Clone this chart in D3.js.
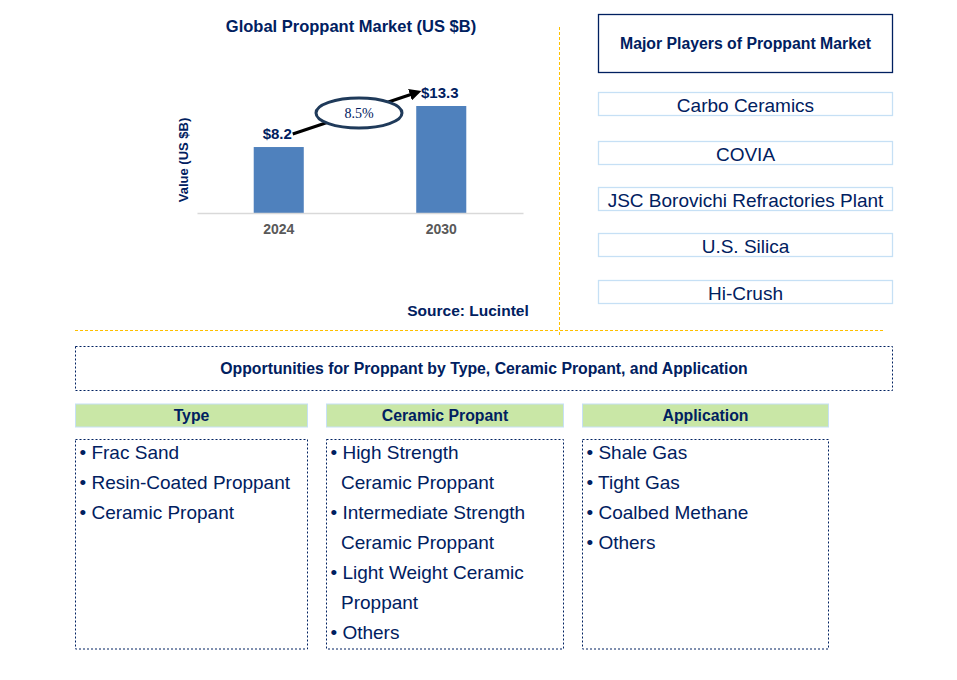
<!DOCTYPE html>
<html><head><meta charset="utf-8">
<script src="https://cdn.jsdelivr.net/npm/d3@7"></script>
<style>html,body{margin:0;padding:0;background:#fff;}svg{display:block;font-family:Arial,"Liberation Sans",sans-serif;}</style>
</head><body>
<svg id="c" width="957" height="680"></svg>
<script>
const years = ["2024", "2030"];
const values = [8.2, 13.3];
const valueLabels = ["$8.2", "$13.3"];
const cagrLabel = "8.5%";
const chartTitle = "Global Proppant Market (US $B)";
const yAxisTitle = "Value (US $B)";
const playersTitle = "Major Players of Proppant Market";
const players = ["Carbo Ceramics", "COVIA", "JSC Borovichi Refractories Plant", "U.S. Silica", "Hi-Crush"];
const sourceText = "Source: Lucintel";
const oppTitle = "Opportunities for Proppant by Type, Ceramic Propant, and Application";
const segHeaders = ["Type", "Ceramic Propant", "Application"];
const typeItems = [["Frac Sand"], ["Resin-Coated Proppant"], ["Ceramic Propant"]];
const ceramicItems = [["High Strength", "Ceramic Proppant"], ["Intermediate Strength", "Ceramic Proppant"], ["Light Weight Ceramic", "Proppant"], ["Others"]];
const appItems = [["Shale Gas"], ["Tight Gas"], ["Coalbed Methane"], ["Others"]];

const NAVY = "#002060";
const svg = d3.select("#c");

// dividers
svg.append("line").attr("x1", 559.5).attr("x2", 559.5).attr("y1", 27).attr("y2", 337)
  .attr("stroke", "#ffc000").attr("stroke-width", 1).attr("stroke-dasharray", "3,2");
svg.append("line").attr("x1", 75).attr("x2", 883).attr("y1", 330.5).attr("y2", 330.5)
  .attr("stroke", "#ffc000").attr("stroke-width", 1).attr("stroke-dasharray", "3,2");

// chart
svg.append("text").attr("x", 351).attr("y", 31.5).attr("text-anchor", "middle")
  .attr("font-weight", "bold").attr("font-size", 16.5).attr("fill", NAVY).text(chartTitle);

const x = d3.scaleBand().domain(years).range([197, 523]).paddingInner(0.692).paddingOuter(0.349);
const y = d3.scaleLinear().domain([0, 13.3]).range([213, 106]);

svg.append("g").selectAll("rect").data(values).join("rect")
  .attr("x", (d, i) => x(years[i])).attr("width", x.bandwidth())
  .attr("y", d => y(d)).attr("height", d => y(0) - y(d)).attr("fill", "#4f81bd");

const xAxis = svg.append("g").attr("transform", `translate(0,${y(0)})`)
  .call(d3.axisBottom(x).tickSize(0).tickPadding(11));
xAxis.select(".domain").attr("stroke", "#d9d9d9").attr("stroke-width", 1.5);
xAxis.selectAll("text").attr("font-family", "Arial,'Liberation Sans',sans-serif")
  .attr("font-size", 14).attr("font-weight", "bold").attr("fill", "#595959");

svg.append("g").selectAll("text").data(values).join("text")
  .attr("x", (d, i) => x(years[i]) + x.bandwidth() / 2 - 1.5).attr("y", d => y(d) - 8.5)
  .attr("text-anchor", "middle").attr("font-weight", "bold").attr("font-size", 15).attr("fill", NAVY)
  .text((d, i) => valueLabels[i]);

svg.append("text").attr("transform", "translate(188,160) rotate(-90)").attr("text-anchor", "middle")
  .attr("font-weight", "bold").attr("font-size", 13).attr("fill", NAVY).text(yAxisTitle);

// arrow
const defs = svg.append("defs");
defs.append("marker").attr("id", "ah").attr("viewBox", "0 0 10 10").attr("refX", 2).attr("refY", 5)
  .attr("markerWidth", 4).attr("markerHeight", 4).attr("orient", "auto")
  .append("path").attr("d", "M0,0 L10,5 L0,10 z").attr("fill", "#000");
const x0 = x(years[0]) + x.bandwidth() / 2, x1 = x(years[1]) + x.bandwidth() / 2;
svg.append("line").attr("x1", x0 + 14).attr("y1", y(values[0]) - 13)
  .attr("x2", x1 - 29).attr("y2", y(values[1]) - 12)
  .attr("stroke", "#000").attr("stroke-width", 3).attr("marker-end", "url(#ah)");
svg.append("ellipse").attr("cx", 359).attr("cy", 113).attr("rx", 43).attr("ry", 15)
  .attr("fill", "#fff").attr("stroke", "#1f3a5a").attr("stroke-width", 3);
svg.append("text").attr("x", 359).attr("y", 117.5).attr("text-anchor", "middle")
  .attr("font-family", "'Times New Roman','Liberation Serif',serif").attr("font-size", 14)
  .attr("fill", NAVY).text(cagrLabel);

svg.append("text").attr("x", 468).attr("y", 316).attr("text-anchor", "middle")
  .attr("font-weight", "bold").attr("font-size", 15.5).attr("fill", NAVY).text(sourceText);

// players
svg.append("rect").attr("x", 598.5).attr("y", 14.5).attr("width", 294).attr("height", 58)
  .attr("fill", "#fff").attr("stroke", NAVY).attr("stroke-width", 1.3);
svg.append("text").attr("x", 745.5).attr("y", 48.5).attr("text-anchor", "middle")
  .attr("font-weight", "bold").attr("font-size", 15.8).attr("fill", NAVY).text(playersTitle);
const pTops = [92.5, 141.5, 187.5, 233.5, 280.5];
const pg = svg.append("g").selectAll("g").data(players).join("g");
pg.append("rect").attr("x", 598.5).attr("y", (d, i) => pTops[i]).attr("width", 294).attr("height", 23)
  .attr("fill", "#fff").attr("stroke", "#c6e0f5").attr("stroke-width", 1.3);
pg.append("text").attr("x", 745.5).attr("y", (d, i) => pTops[i] + 19).attr("text-anchor", "middle")
  .attr("font-size", 19).attr("fill", NAVY).text(d => d);

// opportunities
svg.append("rect").attr("x", 75.5).attr("y", 346.5).attr("width", 817).attr("height", 44)
  .attr("fill", "none").attr("stroke", NAVY).attr("stroke-width", 1).attr("stroke-dasharray", "2,2");
svg.append("text").attr("x", 484).attr("y", 374).attr("text-anchor", "middle")
  .attr("font-weight", "bold").attr("font-size", 15.8).attr("fill", NAVY).text(oppTitle);

const cols = [
  { x0: 75.5, x1: 307.5, items: typeItems },
  { x0: 326.5, x1: 563.5, items: ceramicItems },
  { x0: 582.5, x1: 828.5, items: appItems }
];
cols.forEach((c, ci) => {
  svg.append("rect").attr("x", c.x0).attr("y", 404).attr("width", c.x1 - c.x0).attr("height", 23)
    .attr("fill", "#c9e7a6").attr("stroke", "#c6e0f5").attr("stroke-width", 1);
  svg.append("text").attr("x", (c.x0 + c.x1) / 2).attr("y", 421).attr("text-anchor", "middle")
    .attr("font-weight", "bold").attr("font-size", 15.8).attr("fill", NAVY).text(segHeaders[ci]);
  svg.append("rect").attr("x", c.x0).attr("y", 439.5).attr("width", c.x1 - c.x0).attr("height", 209.5)
    .attr("fill", "none").attr("stroke", NAVY).attr("stroke-width", 1).attr("stroke-dasharray", "2,2");
  let line = 0;
  c.items.forEach(item => {
    item.forEach((t, k) => {
      svg.append("text").attr("x", c.x0 + (k === 0 ? 4 : 14.5)).attr("y", 459 + line * 30)
        .attr("font-size", 19).attr("fill", NAVY).text(k === 0 ? "\u2022 " + t : t);
      line++;
    });
  });
});
</script>
</body></html>
